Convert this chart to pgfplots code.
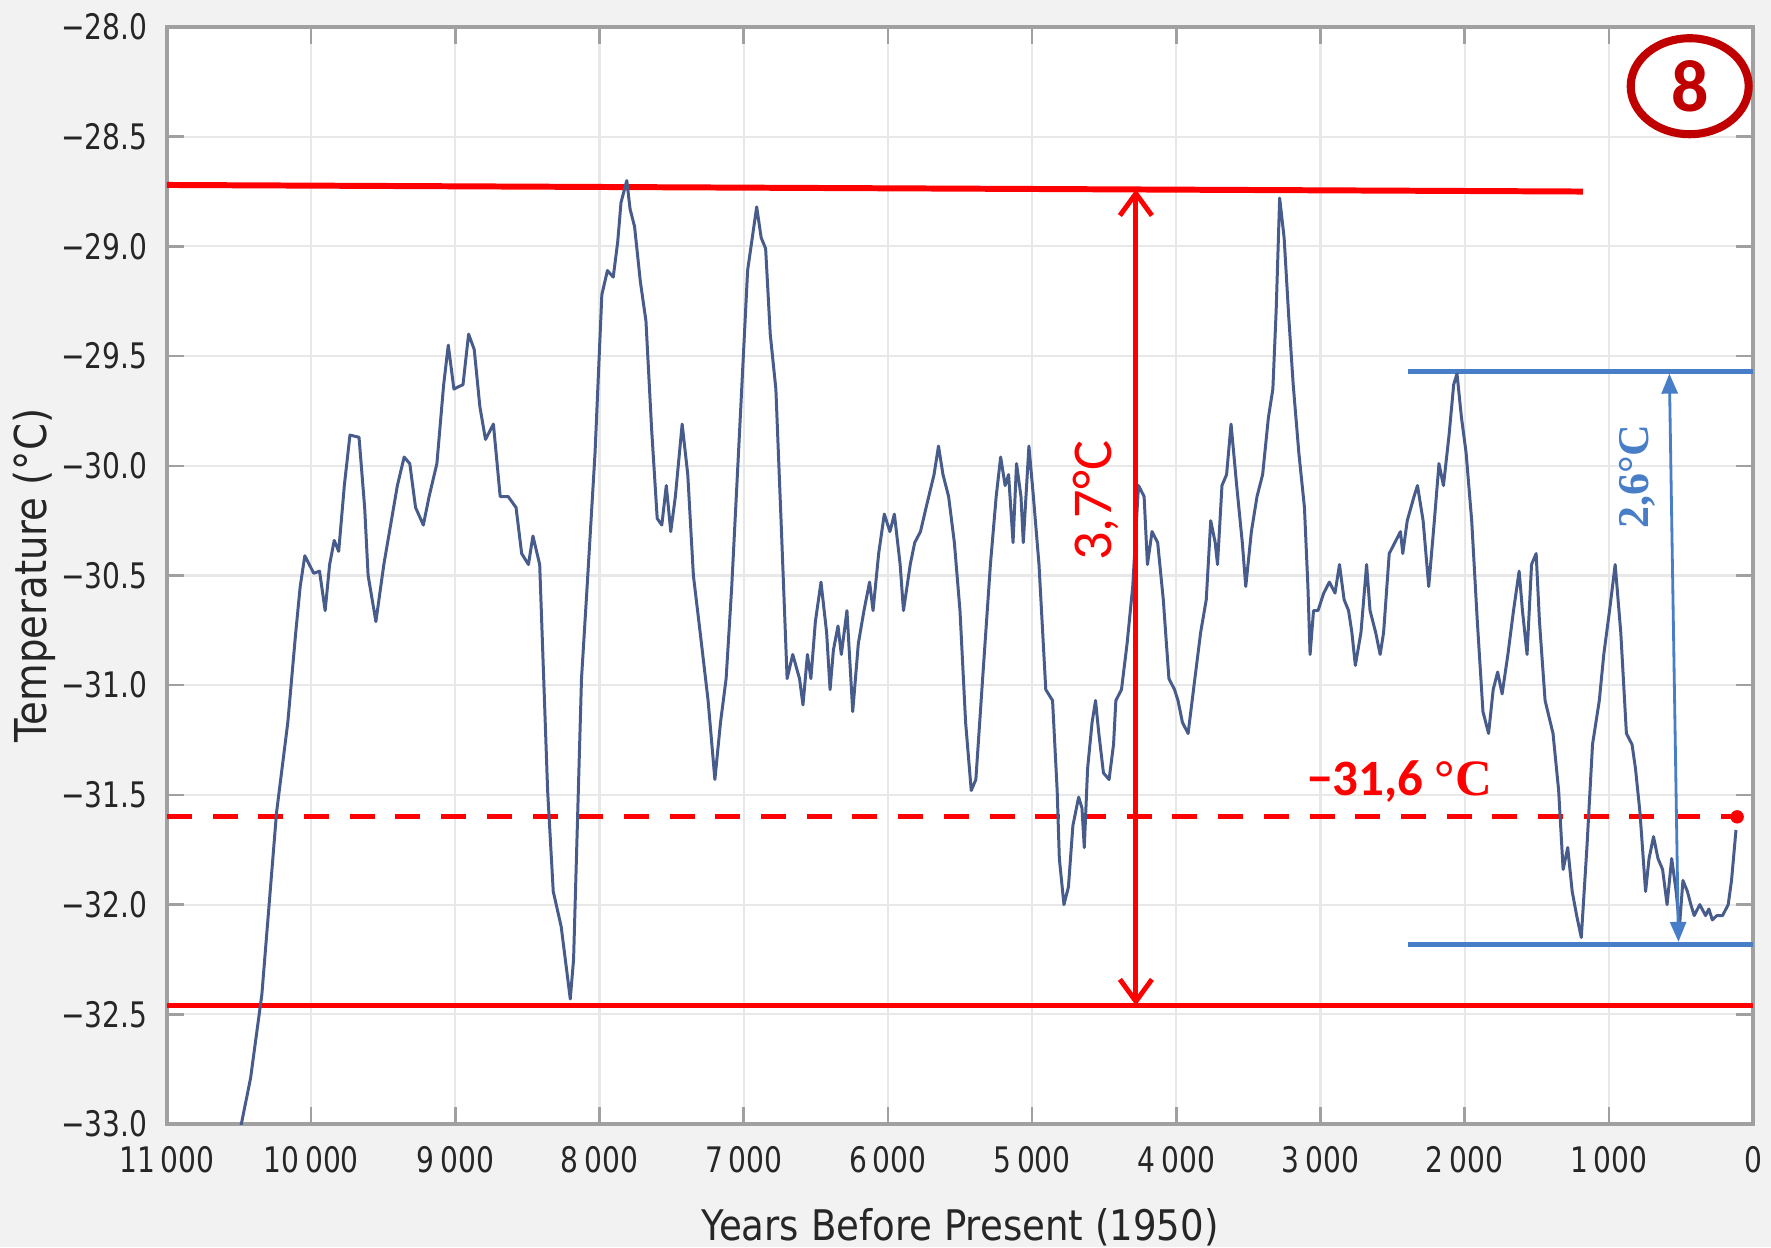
\documentclass[border=0pt]{standalone}
\usepackage{fontspec}
\setmainfont{DejaVu Sans}[FakeStretch=0.8]
\newfontfamily\labelfont{DejaVu Sans}[FakeStretch=0.88]
\newfontfamily\carlito{Carlito}
\newfontfamily\libserif{Liberation Serif}
\usepackage{pgfplots}
\pgfplotsset{compat=1.18}
\usetikzlibrary{arrows.meta,backgrounds}
\definecolor{bg}{RGB}{242,242,242}
\definecolor{dataline}{RGB}{72,92,140}
\definecolor{annblue}{RGB}{72,125,200}
\definecolor{darkred}{RGB}{192,0,0}
\definecolor{gridc}{RGB}{232,232,232}
\definecolor{framec}{RGB}{160,160,160}

\begin{document}
\begin{tikzpicture}
\begin{axis}[
  scale only axis,
  width=158.6mm, height=109.7mm,
  xmin=0, xmax=11000, x dir=reverse,
  ymin=-33, ymax=-28,
  scaled x ticks=false, scaled y ticks=false,
  xtick={0,1000,2000,3000,4000,5000,6000,7000,8000,9000,10000,11000},
  xticklabels={0,1\,000,2\,000,3\,000,4\,000,5\,000,6\,000,7\,000,8\,000,9\,000,10\,000,11\,000},
  ytick={-33,-32.5,-32,-31.5,-31,-30.5,-30,-29.5,-29,-28.5,-28},
  yticklabels={−33.0,−32.5,−32.0,−31.5,−31.0,−30.5,−30.0,−29.5,−29.0,−28.5,−28.0},
  tick align=inside,
  major tick length=1.7mm,
  tick style={framec, line width=0.7pt},
  grid=major,
  grid style={gridc, line width=0.6pt},
  axis line style={framec, line width=0.9pt},
  axis background/.style={fill=white},
  tick label style={font=\fontsize{10}{12}\selectfont, text=black!85},
  xticklabel style={yshift=-1mm},
  yticklabel style={xshift=-0.7mm},
  xlabel={Years Before Present (1950)},
  ylabel={Temperature (°C)},
  xlabel style={font=\labelfont\fontsize{12}{14}\selectfont, text=black!85, at={(axis description cs:0.5,-0.0945)}, anchor=center},
  ylabel style={font=\labelfont\fontsize{12.5}{14}\selectfont, text=black!85, at={(axis description cs:-0.0839,0.5)}, anchor=center},
  clip mode=individual,
]
% reference levels
\addplot[red, line width=1.7pt] coordinates {(11000,-28.72) (1180,-28.75)};
\addplot[red, line width=1.4pt] coordinates {(11000,-32.46) (0,-32.46)};
\addplot[red, line width=1.4pt, dash pattern=on 2.5mm off 2.07mm] coordinates {(11000,-31.60) (110,-31.60)};
\addplot[annblue, line width=1.4pt] coordinates {(2390,-29.57) (0,-29.57)};
\addplot[annblue, line width=1.4pt] coordinates {(2390,-32.18) (0,-32.18)};

% temperature series
\addplot[dataline, line width=0.85pt, line join=round] table {
x y
10530 -33.15
10420 -32.79
10342 -32.41
10240 -31.58
10162 -31.17
10107 -30.76
10076 -30.55
10044 -30.41
9982 -30.49
9942 -30.48
9903 -30.66
9872 -30.45
9840 -30.34
9809 -30.39
9770 -30.09
9731 -29.86
9668 -29.87
9629 -30.19
9605 -30.50
9551 -30.71
9496 -30.45
9402 -30.09
9355 -29.96
9316 -29.99
9276 -30.19
9222 -30.27
9182 -30.14
9128 -29.99
9081 -29.63
9049 -29.45
9010 -29.65
8947 -29.63
8908 -29.40
8869 -29.47
8830 -29.73
8791 -29.88
8736 -29.81
8689 -30.14
8634 -30.14
8579 -30.19
8540 -30.40
8493 -30.45
8462 -30.32
8415 -30.45
8360 -31.48
8321 -31.94
8266 -32.10
8203 -32.43
8180 -32.25
8125 -30.97
8086 -30.55
8031 -29.94
7984 -29.22
7945 -29.11
7905 -29.14
7874 -28.98
7851 -28.80
7811 -28.70
7788 -28.83
7757 -28.91
7717 -29.16
7678 -29.34
7639 -29.83
7600 -30.24
7568 -30.27
7537 -30.09
7506 -30.30
7474 -30.14
7427 -29.81
7388 -30.04
7349 -30.50
7302 -30.76
7247 -31.07
7200 -31.43
7161 -31.17
7122 -30.97
7083 -30.55
7020 -29.73
6973 -29.11
6934 -28.93
6910 -28.82
6879 -28.96
6848 -29.01
6816 -29.40
6777 -29.65
6738 -30.30
6699 -30.97
6660 -30.86
6613 -30.97
6589 -31.09
6558 -30.86
6534 -30.97
6503 -30.71
6464 -30.53
6425 -30.76
6401 -31.02
6378 -30.84
6346 -30.73
6323 -30.86
6284 -30.66
6244 -31.12
6205 -30.81
6166 -30.66
6127 -30.53
6103 -30.66
6064 -30.40
6025 -30.22
5986 -30.30
5955 -30.22
5915 -30.45
5892 -30.66
5845 -30.45
5814 -30.35
5774 -30.30
5735 -30.19
5680 -30.04
5649 -29.91
5618 -30.04
5579 -30.14
5539 -30.35
5500 -30.66
5461 -31.17
5422 -31.48
5390 -31.43
5343 -30.97
5289 -30.45
5249 -30.14
5218 -29.96
5187 -30.09
5163 -30.04
5132 -30.35
5108 -29.99
5077 -30.14
5061 -30.35
5022 -29.91
4991 -30.14
4952 -30.45
4905 -31.02
4858 -31.07
4826 -31.48
4811 -31.79
4779 -32.00
4748 -31.92
4717 -31.64
4677 -31.51
4654 -31.56
4638 -31.74
4615 -31.38
4584 -31.17
4560 -31.07
4537 -31.22
4505 -31.40
4466 -31.43
4435 -31.27
4419 -31.07
4380 -31.02
4341 -30.81
4302 -30.55
4262 -30.09
4223 -30.14
4200 -30.45
4168 -30.30
4129 -30.35
4090 -30.61
4051 -30.97
4012 -31.02
3988 -31.07
3957 -31.17
3918 -31.22
3871 -30.97
3831 -30.76
3792 -30.61
3761 -30.25
3730 -30.35
3714 -30.45
3683 -30.09
3651 -30.04
3620 -29.81
3581 -30.09
3542 -30.35
3518 -30.55
3479 -30.30
3440 -30.14
3401 -30.04
3361 -29.78
3330 -29.65
3307 -29.29
3283 -28.78
3252 -28.96
3220 -29.32
3189 -29.63
3150 -29.94
3111 -30.19
3087 -30.55
3072 -30.86
3048 -30.66
3017 -30.66
2977 -30.58
2938 -30.53
2899 -30.58
2868 -30.45
2836 -30.61
2805 -30.66
2782 -30.76
2758 -30.91
2719 -30.76
2680 -30.45
2656 -30.66
2617 -30.76
2586 -30.86
2562 -30.76
2523 -30.40
2484 -30.35
2445 -30.30
2429 -30.40
2398 -30.25
2351 -30.14
2327 -30.09
2288 -30.25
2249 -30.55
2210 -30.25
2178 -29.99
2147 -30.09
2108 -29.86
2076 -29.63
2053 -29.58
2022 -29.78
1990 -29.94
1951 -30.25
1912 -30.71
1873 -31.12
1834 -31.22
1802 -31.02
1771 -30.94
1740 -31.04
1700 -30.86
1661 -30.66
1622 -30.48
1599 -30.66
1567 -30.86
1536 -30.45
1504 -30.40
1481 -30.71
1442 -31.07
1387 -31.22
1348 -31.48
1317 -31.84
1285 -31.74
1254 -31.94
1223 -32.05
1191 -32.15
1152 -31.74
1113 -31.27
1066 -31.07
1035 -30.86
995 -30.66
956 -30.45
917 -30.76
878 -31.22
839 -31.27
815 -31.38
784 -31.58
745 -31.94
721 -31.79
690 -31.69
659 -31.79
627 -31.84
596 -32.00
564 -31.79
533 -31.94
510 -32.10
486 -31.89
455 -31.94
431 -32.00
408 -32.05
369 -32.00
329 -32.05
306 -32.02
282 -32.07
251 -32.05
211 -32.05
172 -32.00
149 -31.89
118 -31.66
};

\addplot[red, only marks, mark=*, mark size=1.7pt] coordinates {(110,-31.60)};

% annotations
\draw[red, line width=1.4pt, {Straight Barb[length=2.2mm,width=3.2mm]}-{Straight Barb[length=2.2mm,width=3.2mm]}]
  (axis cs:4280,-28.74) -- (axis cs:4280,-32.46);
\node[red, rotate=90, font=\carlito\fontsize{16}{18}\selectfont] at (axis cs:4560,-30.16) {3,7°C};
\node[red, anchor=west, inner sep=0pt, font=\carlito\bfseries\fontsize{14.5}{16}\selectfont] at (axis cs:3095,-31.44) {−31,6 {\libserif\bfseries °C}};
\draw[annblue, line width=0.8pt, {Triangle[length=2mm,width=1.6mm]}-{Triangle[length=2mm,width=1.6mm]}]
  (axis cs:580,-29.58) -- (axis cs:517,-32.17);
\node[annblue, rotate=90, font=\libserif\bfseries\fontsize{12.5}{14}\selectfont] at (axis cs:800,-30.05) {2,6°C};
\draw[darkred, line width=2.3pt] (axis cs:439,-28.27) ellipse [x radius=5.9mm, y radius=4.8mm];
\node[darkred, font=\carlito\bfseries\fontsize{21}{24}\selectfont] at (axis cs:439,-28.27) {8};
\end{axis}
\pgfresetboundingbox
\path[use as bounding box] ([xshift=-16.7mm,yshift=-12.3mm]current axis.south west) rectangle ([xshift=1.8mm,yshift=2.7mm]current axis.north east);
\begin{scope}[on background layer]
\fill[bg] ([xshift=-16.7mm,yshift=-12.3mm]current axis.south west) rectangle ([xshift=1.8mm,yshift=2.7mm]current axis.north east);
\end{scope}
\end{tikzpicture}
\end{document}
